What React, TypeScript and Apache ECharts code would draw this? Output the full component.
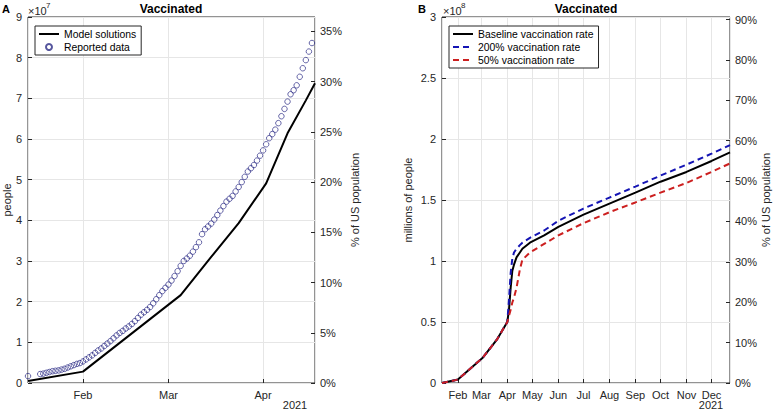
import React, { useEffect, useRef } from 'react';
import * as echarts from 'echarts';

// ---------- data ----------
// Panel A: model solution (millions of people)
const modelDatesA = ['2021-01-14', '2021-02-01', '2021-03-05', '2021-03-15', '2021-03-24', '2021-04-02', '2021-04-09', '2021-04-15', '2021-04-18'];
const modelValuesA = [0.5, 2.8, 21.6, 31.0, 39.3, 49.1, 61.4, 69.5, 73.7];

// Panel A: reported data (millions of people), daily reports
const reportedRanges: [string, string][] = [['2021-01-14', '2021-01-14'], ['2021-01-18', '2021-04-17']];
const reportedValues = [
  1.7,
  2.2, 2.3, 2.5, 2.7, 2.9, 3.0, 3.1, 3.3, 3.5, 3.8, 4.1, 4.4, 4.7, 4.9,
  5.3, 5.8, 6.3, 6.8, 7.4, 8.0, 8.5, 9.1, 9.7, 10.3, 11.0, 11.7, 12.3, 12.8, 13.4, 13.9, 14.5, 15.2, 16.0, 16.8, 17.4, 18.0, 18.7, 19.6, 20.6, 21.6, 22.6, 23.4,
  24.2, 25.2, 26.3, 27.5, 28.8, 30.0, 30.6, 31.3, 32.3, 33.4, 34.6, 36.6, 37.8, 38.5, 39.2, 40.2, 41.3, 42.4, 43.5, 44.6, 45.3, 46.0, 47.1, 48.2, 49.4, 50.7, 52.0, 52.8, 53.6, 54.7, 55.9,
  57.2, 58.7, 60.2, 61.2, 62.3, 63.9, 65.6, 67.4, 69.2, 71.0, 72.0, 73.2, 75.3, 77.4, 79.4, 81.5, 83.6,
];

// Panel B: scenarios (units of 1e8 people)
const scenarioDates = ['2021-01-13', '2021-02-01', '2021-03-03', '2021-03-20', '2021-04-01', '2021-04-03', '2021-04-05', '2021-04-07', '2021-04-09', '2021-04-12', '2021-04-16', '2021-04-19', '2021-04-28', '2021-05-15', '2021-06-01', '2021-07-01', '2021-08-01', '2021-09-01', '2021-10-01', '2021-11-01', '2021-12-01', '2021-12-23'];
const baselineValues = [0, 0.028, 0.21, 0.36, 0.50, 0.60, 0.78, 0.92, 0.97, 1.03, 1.07, 1.10, 1.15, 1.21, 1.28, 1.38, 1.47, 1.56, 1.65, 1.73, 1.82, 1.89];
const rate200Values = [0, 0.028, 0.21, 0.36, 0.50, 0.68, 0.90, 1.02, 1.07, 1.10, 1.13, 1.15, 1.19, 1.25, 1.33, 1.43, 1.52, 1.61, 1.70, 1.79, 1.88, 1.95];
const rate50Values = [0, 0.028, 0.21, 0.36, 0.50, 0.55, 0.60, 0.66, 0.70, 0.78, 0.93, 1.01, 1.07, 1.14, 1.21, 1.31, 1.40, 1.48, 1.56, 1.64, 1.73, 1.80];

const POP_A = 247e6; // population behind the % axis of panel A
const POP_B = 331e6; // population behind the % axis of panel B
const MONTHS = ['Jan', 'Feb', 'Mar', 'Apr', 'May', 'Jun', 'Jul', 'Aug', 'Sep', 'Oct', 'Nov', 'Dec'];

// ---------- helpers ----------
const FONT = "'Liberation Sans', Arial, Helvetica, sans-serif";
const AX = '#262626';
const GRIDC = '#e6e6e6';
const DAY = 86400000;

function t(s: string): number {
  const [y, m, d] = s.split('-').map(Number);
  return new Date(y, m - 1, d).getTime();
}
function expandRanges(ranges: [string, string][]): number[] {
  const out: number[] = [];
  ranges.forEach(([a, b]) => {
    const d = new Date(t(a));
    const end = t(b);
    while (d.getTime() <= end) {
      out.push(d.getTime());
      d.setDate(d.getDate() + 1);
    }
  });
  return out;
}
function monthLabel(v: number): string {
  const d = new Date(v);
  return d.getDate() === 1 && d.getHours() === 0 ? MONTHS[d.getMonth()] : '';
}

export default function App() {
  const ref = useRef<HTMLDivElement>(null);
  useEffect(() => {
    document.body.style.margin = '0';
    if (!ref.current) return;
    const chart = echarts.init(ref.current, undefined, { renderer: 'svg' });
    const reportedDates = expandRanges(reportedRanges);
    const lbl = { color: AX, fontSize: 11, fontFamily: FONT };
    const tick = { show: true, inside: true, length: 4, lineStyle: { color: AX, width: 1 } };
    const xCommon = (g: number, min: string, max: string) => ({
      type: 'time',
      gridIndex: g,
      min: t(min),
      max: t(max),
      minInterval: 28 * DAY,
      maxInterval: 31 * DAY,
      axisLine: { show: false },
      axisTick: tick,
      axisLabel: { ...lbl, formatter: monthLabel, margin: 6, hideOverlap: false },
      splitLine: { show: true, lineStyle: { color: GRIDC, width: 1 } },
    });
    const nameStyle = { color: AX, fontSize: 11, fontFamily: FONT };
    const noSymbol = { color: 'rgba(0,0,0,0)', borderColor: 'rgba(0,0,0,0)', borderWidth: 0 };
    const legendCommon = {
      orient: 'vertical', itemWidth: 20, itemHeight: 6, itemGap: 3,
      padding: [3, 5, 3, 3], borderColor: AX, borderWidth: 1, backgroundColor: '#fff',
      textStyle: { color: '#000', fontSize: 10.4, fontFamily: FONT },
    };
    const option: any = {
      animation: false,
      grid: [
        { left: 27, right: 460, top: 17, bottom: 30, show: true, borderColor: AX, borderWidth: 1 },
        { left: 442, right: 45, top: 17, bottom: 30, show: true, borderColor: AX, borderWidth: 1 },
      ],
      xAxis: [xCommon(0, '2021-01-14', '2021-04-18'), xCommon(1, '2021-01-13', '2021-12-23')],
      yAxis: [
        {
          type: 'value', gridIndex: 0, position: 'left', min: 0, max: 90, interval: 10,
          name: 'people', nameLocation: 'middle', nameGap: 13, nameRotate: 90, nameTextStyle: nameStyle,
          axisLine: { show: false }, axisTick: tick,
          axisLabel: { ...lbl, margin: 6, formatter: (v: number) => String(Math.round(v / 10)) },
          splitLine: { show: true, lineStyle: { color: GRIDC } },
        },
        {
          type: 'value', gridIndex: 0, position: 'right', min: 0, max: (90e6 / POP_A) * 100, interval: 5,
          name: '% of US population', nameLocation: 'middle', nameGap: 34, nameRotate: 90, nameTextStyle: nameStyle,
          axisLine: { show: false }, axisTick: tick,
          axisLabel: { ...lbl, margin: 5, showMaxLabel: false, formatter: (v: number) => (v % 5 === 0 ? v + '%' : '') },
          splitLine: { show: false },
        },
        {
          type: 'value', gridIndex: 1, position: 'left', min: 0, max: 3, interval: 0.5,
          name: 'millions of people', nameLocation: 'middle', nameGap: 29, nameRotate: 90, nameTextStyle: nameStyle,
          axisLine: { show: false }, axisTick: tick,
          axisLabel: { ...lbl, margin: 6, formatter: (v: number) => String(v) },
          splitLine: { show: true, lineStyle: { color: GRIDC } },
        },
        {
          type: 'value', gridIndex: 1, position: 'right', min: 0, max: (3e8 / POP_B) * 100, interval: 10,
          name: '% of US population', nameLocation: 'middle', nameGap: 30, nameRotate: 90, nameTextStyle: nameStyle,
          axisLine: { show: false }, axisTick: tick,
          axisLabel: { ...lbl, margin: 5, showMaxLabel: false, formatter: (v: number) => (v % 10 === 0 ? v + '%' : '') },
          splitLine: { show: false },
        },
      ],
      legend: [
        {
          ...legendCommon,
          left: 35, top: 26,
          data: [{ name: 'Model solutions', itemStyle: noSymbol }, { name: 'Reported data', icon: 'circle' }],
        },
        {
          ...legendCommon,
          left: 449, top: 26,
          data: [
            { name: 'Baseline vaccination rate', itemStyle: noSymbol },
            { name: '200% vaccination rate', itemStyle: noSymbol },
            { name: '50% vaccination rate', itemStyle: noSymbol },
          ],
        },
      ],
      series: [
        {
          name: 'Reported data', type: 'scatter', xAxisIndex: 0, yAxisIndex: 0,
          data: reportedDates.map((d, i) => [d, reportedValues[i]]),
          symbol: 'circle', symbolSize: 5.5,
          itemStyle: { color: 'rgba(0,0,0,0)', borderColor: '#2a2a85', borderWidth: 0.9 },
          z: 3,
        },
        {
          name: 'Model solutions', type: 'line', xAxisIndex: 0, yAxisIndex: 0,
          data: modelDatesA.map((d, i) => [t(d), modelValuesA[i]]),
          symbol: 'none', lineStyle: { color: '#000', width: 2 }, itemStyle: { color: '#000' },
          z: 4,
        },
        {
          name: 'Baseline vaccination rate', type: 'line', xAxisIndex: 1, yAxisIndex: 2,
          data: scenarioDates.map((d, i) => [t(d), baselineValues[i]]),
          symbol: 'none', lineStyle: { color: '#000', width: 2 }, itemStyle: { color: '#000' },
        },
        {
          name: '200% vaccination rate', type: 'line', xAxisIndex: 1, yAxisIndex: 2,
          data: scenarioDates.map((d, i) => [t(d), rate200Values[i]]),
          symbol: 'none', lineStyle: { color: '#1414b4', width: 2, type: [6, 4] }, itemStyle: { color: '#1414b4' },
        },
        {
          name: '50% vaccination rate', type: 'line', xAxisIndex: 1, yAxisIndex: 2,
          data: scenarioDates.map((d, i) => [t(d), rate50Values[i]]),
          symbol: 'none', lineStyle: { color: '#cc1f1f', width: 2, type: [6, 4] }, itemStyle: { color: '#cc1f1f' },
        },
      ],
      graphic: [
        { type: 'text', x: 2, y: 3, style: { text: 'A', fontSize: 11, fontWeight: 'bold', fontFamily: FONT, fill: '#000' } },
        { type: 'text', x: 418, y: 3, style: { text: 'B', fontSize: 11, fontWeight: 'bold', fontFamily: FONT, fill: '#000' } },
        { type: 'text', x: 171, y: 9, style: { text: 'Vaccinated', fontSize: 12, fontWeight: 'bold', fontFamily: FONT, fill: '#000', align: 'center', verticalAlign: 'middle' } },
        { type: 'text', x: 586, y: 9, style: { text: 'Vaccinated', fontSize: 12, fontWeight: 'bold', fontFamily: FONT, fill: '#000', align: 'center', verticalAlign: 'middle' } },
        { type: 'text', x: 28, y: 5, style: { text: '×10', fontSize: 11, fontFamily: FONT, fill: AX } },
        { type: 'text', x: 46, y: 1, style: { text: '7', fontSize: 8, fontFamily: FONT, fill: AX } },
        { type: 'text', x: 443, y: 5, style: { text: '×10', fontSize: 11, fontFamily: FONT, fill: AX } },
        { type: 'text', x: 461, y: 1, style: { text: '8', fontSize: 8, fontFamily: FONT, fill: AX } },
        { type: 'text', x: 295, y: 405, style: { text: '2021', fontSize: 11, fontFamily: FONT, fill: AX, align: 'center', verticalAlign: 'middle' } },
        { type: 'text', x: 711, y: 405, style: { text: '2021', fontSize: 11, fontFamily: FONT, fill: AX, align: 'center', verticalAlign: 'middle' } },
      ],
    };
    chart.setOption(option);
    return () => chart.dispose();
  }, []);
  return <div ref={ref} style={{ width: 775, height: 413 }} />;
}
